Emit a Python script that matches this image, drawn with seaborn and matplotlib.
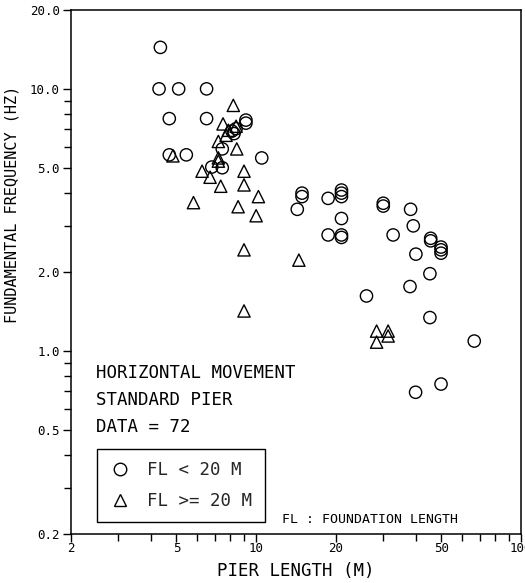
import matplotlib
matplotlib.use("Agg")
import matplotlib.pyplot as plt
import matplotlib.ticker as mticker
from matplotlib.lines import Line2D
import seaborn as sns
import pandas as pd

# ---- data ----
circle_label = "FL < 20 M"
triangle_label = "FL >= 20 M"

x_circle = [4.35, 4.3, 5.1, 6.5, 4.7, 6.5, 9.15, 9.15, 4.7, 5.45, 10.5, 7.45, 6.8, 7.45, 8.1, 8.4, 8.25,
            14.9, 14.9, 14.3, 18.7, 21.0, 21.0, 21.0, 21.0, 18.7, 21.0, 21.0,
            30.2, 30.2, 38.3, 39.2, 32.9, 45.6, 45.6, 49.9, 49.9, 49.9, 40.1, 45.3, 38.1, 26.1,
            45.3, 66.6, 49.9, 40.0]
y_circle = [14.4, 10.0, 10.0, 10.0, 7.7, 7.7, 7.6, 7.4, 5.6, 5.6, 5.45, 5.9, 5.03, 5.0, 6.9, 7.05, 6.75,
            4.0, 3.88, 3.47, 3.82, 4.11, 4.0, 3.88, 3.2, 2.77, 2.77, 2.71,
            3.66, 3.57, 3.47, 3.0, 2.77, 2.69, 2.63, 2.49, 2.43, 2.36, 2.34, 1.97, 1.76, 1.62,
            1.34, 1.09, 0.747, 0.695]

x_triangle = [8.2, 7.5, 7.85, 7.7, 8.4, 7.2, 8.45, 4.85, 7.2, 7.2, 6.25, 6.7, 9.0, 7.35, 9.0, 10.2,
              5.8, 8.55, 10.0, 9.0, 9.0, 14.5, 28.5, 31.5, 28.5, 31.5]
y_triangle = [8.65, 7.35, 6.95, 6.65, 7.2, 6.3, 5.9, 5.55, 5.45, 5.3, 4.85, 4.6, 4.85, 4.25, 4.3, 3.88,
              3.68, 3.55, 3.28, 2.43, 1.42, 2.22, 1.19, 1.19, 1.08, 1.14]

x_ticks = [2, 5, 10, 20, 50, 100]
x_ticklabels = ["2", "5", "10", "20", "50", "100"]
y_ticks = [0.2, 0.5, 1, 2, 5, 10, 20]
y_ticklabels = ["0.2", "0.5", "1.0", "2.0", "5.0", "10.0", "20.0"]

info_lines = ["HORIZONTAL MOVEMENT", "STANDARD PIER", "DATA = 72"]
note_text = "FL : FOUNDATION LENGTH"
x_title = "PIER LENGTH (M)"
y_title = "FUNDAMENTAL FREQUENCY (HZ)"

df = pd.concat([
    pd.DataFrame({"L": x_circle, "F": y_circle, "grp": circle_label}),
    pd.DataFrame({"L": x_triangle, "F": y_triangle, "grp": triangle_label}),
], ignore_index=True)

# ---- style ----
sns.set_theme(style="white")
plt.rcParams["font.family"] = ["DejaVu Sans Mono"]

fig = plt.figure(figsize=(5.25, 5.83), dpi=100)
ax = fig.add_axes([71 / 525, 1 - 534 / 583, 450 / 525, 524 / 583])

ms = 78
lw = 1.0
sns.scatterplot(data=df[df.grp == circle_label], x="L", y="F", marker="o", s=ms,
                facecolors="none", edgecolor="black", linewidth=lw, ax=ax, legend=False)
sns.scatterplot(data=df[df.grp == triangle_label], x="L", y="F", marker="^", s=ms,
                facecolors="none", edgecolor="black", linewidth=lw, ax=ax, legend=False)

ax.set_xscale("log")
ax.set_yscale("log")
ax.set_xlim(2, 100)
ax.set_ylim(0.2, 20)

ax.set_xticks(x_ticks)
ax.set_xticklabels(x_ticklabels)
ax.set_yticks(y_ticks)
ax.set_yticklabels(y_ticklabels)
ax.xaxis.set_minor_locator(mticker.LogLocator(base=10, subs=[3, 4, 6, 7, 8, 9]))
ax.yaxis.set_minor_locator(mticker.LogLocator(base=10, subs=[3, 4, 6, 7, 8, 9]))
ax.xaxis.set_minor_formatter(mticker.NullFormatter())
ax.yaxis.set_minor_formatter(mticker.NullFormatter())

ax.tick_params(axis="both", which="both", direction="out", color="black",
               width=1.0, labelsize=9, labelcolor="black")
ax.tick_params(axis="both", which="major", length=6)
ax.tick_params(axis="both", which="minor", length=5)
ax.tick_params(axis="x", which="both", pad=0, bottom=True)
ax.tick_params(axis="y", which="both", pad=2, left=True)

for sp in ax.spines.values():
    sp.set_color("black")
    sp.set_linewidth(1.1)
    sp.set_visible(True)

ax.set_xlabel(x_title, fontsize=12.5, color="black", labelpad=5)
ax.set_ylabel(y_title, fontsize=11, color="black")
ax.yaxis.set_label_coords(-0.114, 0.63)

# info text
ys = [0.308, 0.256, 0.205]
for t, yy in zip(info_lines, ys):
    ax.text(0.0556, yy, t, transform=ax.transAxes, fontsize=12.5, va="center", ha="left", color="black")

ax.text(0.469, 0.027, note_text, transform=ax.transAxes, fontsize=9.5, va="center", ha="left", color="black")

handles = [
    Line2D([], [], linestyle="none", marker="o", markersize=9, markerfacecolor="none",
           markeredgecolor="black", markeredgewidth=lw),
    Line2D([], [], linestyle="none", marker="^", markersize=9, markerfacecolor="none",
           markeredgecolor="black", markeredgewidth=lw),
]
leg = ax.legend(handles, [circle_label, triangle_label], loc="upper left",
                bbox_to_anchor=(0.0578, 0.1622), borderaxespad=0, frameon=True,
                fancybox=False, edgecolor="black", framealpha=1, fontsize=12.5,
                handlelength=1.2, handletextpad=1.0, labelspacing=0.75, borderpad=0.7)
leg.get_frame().set_linewidth(1.0)

fig.savefig("out.png", dpi=100)
